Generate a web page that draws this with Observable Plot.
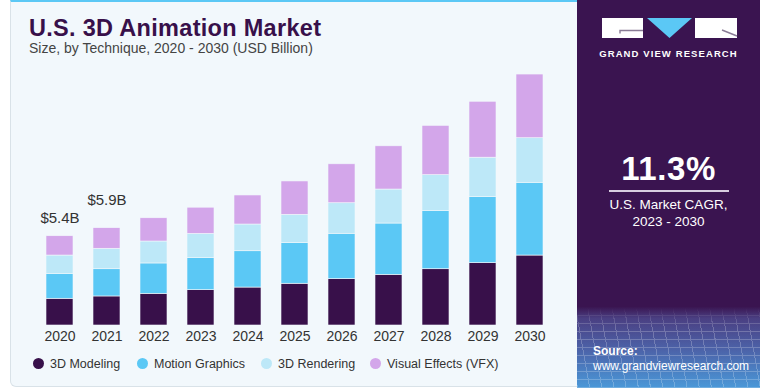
<!DOCTYPE html>
<html><head><meta charset="utf-8">
<script src="https://cdn.jsdelivr.net/npm/d3@7"></script>
<script src="https://cdn.jsdelivr.net/npm/@observablehq/plot@0.6"></script>
<style>
body{margin:0;background:#fff;font-family:"Liberation Sans",Arial,sans-serif;}
#wrap{position:relative;width:760px;height:388px;overflow:hidden;background:#fff;}
#card{position:absolute;left:10px;top:0;width:580px;height:387px;background:#f2f8fc;border:1px solid #d9e2e8;border-top:2px solid #5bc8f5;border-radius:0 0 0 6px;box-sizing:border-box;}
#chart{position:absolute;left:0;top:0;}
#title{position:absolute;left:29px;top:17px;font-size:23.5px;line-height:22px;font-weight:bold;letter-spacing:0.3px;color:#38104a;white-space:nowrap;}
#subtitle{position:absolute;left:29px;top:41px;font-size:14px;line-height:14px;color:#444;white-space:nowrap;}
#legend{position:absolute;left:33px;top:357px;font-size:12.5px;line-height:14px;color:#333;white-space:nowrap;}
#legend span.item{position:absolute;top:0;}
#legend span.dot{display:inline-block;width:11px;height:11px;border-radius:50%;vertical-align:-1px;margin-right:6px;}
#panel{position:absolute;left:577px;top:0;width:183px;height:388px;background:linear-gradient(to bottom,#3a1450 0%,#3a1450 79%,#4a3f82 82%,#4c62a8 90%,#4a98d8 100%);color:#fff;overflow:hidden;}
#grid{position:absolute;left:0;top:308px;width:183px;height:80px;opacity:0.22;
background-image:repeating-linear-gradient(0deg,#fff 0 1px,transparent 1px 8px),repeating-linear-gradient(80deg,#fff 0 1px,transparent 1px 12px);
-webkit-mask-image:linear-gradient(to bottom,transparent 0%,#000 25%,#000 100%);mask-image:linear-gradient(to bottom,transparent 0%,#000 25%,#000 100%);}
#brand{position:absolute;left:0;width:183px;top:48px;text-align:center;font-size:9.5px;font-weight:bold;letter-spacing:1.1px;}
#cagr{position:absolute;left:0;width:183px;top:152px;text-align:center;font-size:33px;line-height:33px;font-weight:bold;letter-spacing:0.6px;}
#rule{position:absolute;left:32px;width:120px;top:190px;height:1.5px;background:#d8cde0;}
#cagrtxt{position:absolute;left:0;width:183px;top:197px;text-align:center;font-size:13.5px;line-height:16.5px;}
#source{position:absolute;left:16px;top:344px;font-size:12px;line-height:14.5px;}
</style></head>
<body>
<div id="wrap">
  <div id="card"></div>
  <div id="chart"></div>
  <div id="title">U.S. 3D Animation Market</div>
  <div id="subtitle">Size, by Technique, 2020 - 2030 (USD Billion)</div>
  <div id="legend"></div>
  <div id="panel">
    <div id="grid"></div>
    <svg style="position:absolute;left:25px;top:18px" width="136" height="21">
      <rect x="0" y="0" width="41" height="20" fill="#fff"/>
      <path d="M41 12.5 H18 V15.5" stroke="#8a7c96" stroke-width="1.4" fill="none"/>
      <polygon points="45,0 90,0 67.5,20" fill="#5bc8f5"/>
      <rect x="93" y="0" width="42" height="20" fill="#fff"/>
      <path d="M120 12 L135 18" stroke="#8a7c96" stroke-width="1.4" fill="none"/>
    </svg>
    <div id="brand">GRAND VIEW RESEARCH</div>
    <div id="cagr">11.3%</div>
    <div id="rule"></div>
    <div id="cagrtxt">U.S. Market CAGR,<br>2023 - 2030</div>
    <div id="source"><b>Source:</b><br>www.grandviewresearch.com</div>
  </div>
</div>
<script>
const years = ["2020","2021","2022","2023","2024","2025","2026","2027","2028","2029","2030"];
const modeling  = [1.62,1.76,1.92,2.14,2.30,2.53,2.81,3.07,3.41,3.78,4.24];
const motion    = [1.51,1.65,1.84,1.96,2.20,2.46,2.75,3.11,3.54,4.00,4.41];
const rendering = [1.11,1.24,1.33,1.45,1.62,1.72,1.85,2.06,2.16,2.39,2.70];
const vfx       = [1.17,1.25,1.41,1.59,1.76,2.02,2.36,2.62,2.99,3.39,3.86];
const series = ["3D Modeling","Motion Graphics","3D Rendering","Visual Effects (VFX)"];
const colors = ["#38104a","#5bc8f5","#bde8f8","#d3a6ea"];
const labelYears = ["2020","2021"];
const labelTexts = ["$5.4B","$5.9B"];

const seriesValues = [modeling, motion, rendering, vfx];
const data = [];
series.forEach((s, si) => years.forEach((y, i) => data.push({year: y, series: s, value: seriesValues[si][i]})));
const totals = years.map((y, i) => seriesValues.reduce((a, arr) => a + arr[i], 0));
const labelData = labelYears.map((y, i) => ({year: y, text: labelTexts[i], total: totals[years.indexOf(y)]}));

const plot = Plot.plot({
  width: 578, height: 350,
  marginTop: 70, marginBottom: 25, marginLeft: 25, marginRight: 15,
  x: {domain: years, padding: 0.43, label: null},
  y: {domain: [0, 255 / 16.5], axis: null},
  color: {domain: series, range: colors},
  style: {background: "transparent", fontFamily: "'Liberation Sans', Arial, sans-serif", color: "#333", overflow: "visible"},
  marks: [
    Plot.barY(data, {x: "year", y: "value", fill: "series", stroke: "#f2f8fc", strokeWidth: 0.6}),
    Plot.axisX({tickSize: 0, tickPadding: 6, fontSize: 14, label: null}),
    Plot.text(labelData.slice(0, 1), {x: "year", y: "total", text: "text", dy: -18, fontSize: 15, fill: "#333"}),
    Plot.text(labelData.slice(1, 2), {x: "year", y: "total", text: "text", dy: -28, fontSize: 15, fill: "#333"})
  ]
});
document.getElementById("chart").appendChild(plot);

const legendLefts = [0, 104, 228, 337];
const legend = document.getElementById("legend");
series.forEach((s, i) => {
  const it = document.createElement("span");
  it.className = "item";
  it.style.left = legendLefts[i] + "px";
  it.innerHTML = `<span class="dot" style="background:${colors[i]}"></span>${s}`;
  legend.appendChild(it);
});
</script>
</body></html>
